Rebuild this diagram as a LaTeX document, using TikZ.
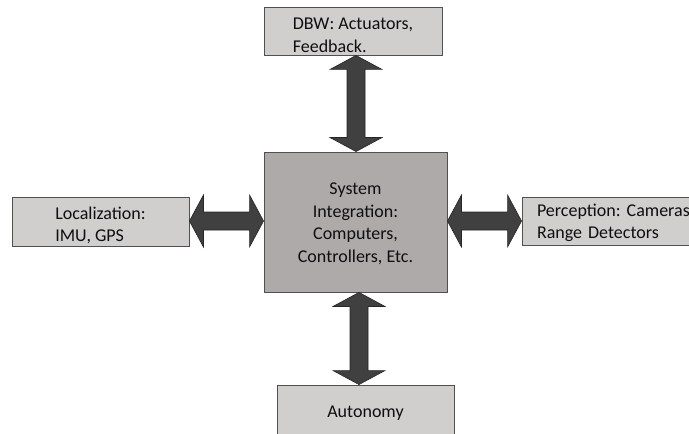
\documentclass[tikz,border=0pt]{standalone}
\usepackage{fontspec}
\setmainfont{Carlito}
\usetikzlibrary{calc}
\definecolor{sidefill}{RGB}{209,206,206}
\definecolor{cenfill}{RGB}{174,170,170}
\definecolor{arrfill}{RGB}{64,64,64}
\definecolor{arrline}{RGB}{38,38,38}
\definecolor{boxline}{RGB}{80,80,80}
\definecolor{txt}{RGB}{15,15,15}
\newcommand{\topstrut}[1]{\rule{0pt}{#1}}
\newcommand{\vdblarrow}[3]{%
  \filldraw[bigarrow] let \p1=(#1.south), \p2=(#2.north) in
    (#3bp,\y1) -- (#3bp+26bp,\y1-14bp) -- (#3bp+9bp,\y1-14bp) -- (#3bp+9bp,\y2+14bp)
    -- (#3bp+26bp,\y2+14bp) -- (#3bp,\y2) -- (#3bp-26bp,\y2+14bp) -- (#3bp-9bp,\y2+14bp)
    -- (#3bp-9bp,\y1-14bp) -- (#3bp-26bp,\y1-14bp) -- cycle;}
\newcommand{\hdblarrow}[3]{%
  \filldraw[bigarrow] let \p1=(#1.east), \p2=(#2.west) in
    (\x1,-#3bp) -- (\x1+14bp,-#3bp+26bp) -- (\x1+14bp,-#3bp+9bp) -- (\x2-14bp,-#3bp+9bp)
    -- (\x2-14bp,-#3bp+26bp) -- (\x2,-#3bp) -- (\x2-14bp,-#3bp-26bp) -- (\x2-14bp,-#3bp-9bp)
    -- (\x1+14bp,-#3bp-9bp) -- (\x1+14bp,-#3bp-26bp) -- cycle;}
\begin{document}
\frenchspacing
\begin{tikzpicture}[x=1bp,y=-1bp,
  box/.style={draw=boxline, line width=0.9bp, fill=sidefill, inner sep=0pt,
    font=\frenchspacing\fontsize{18bp}{22.5bp}\selectfont, text=txt},
  cenbox/.style={box, fill=cenfill},
  bigarrow/.style={fill=arrfill, draw=arrline, line width=0.6bp, line join=miter}]
\useasboundingbox (0,0) rectangle (689,434);
\node[box, minimum width=178bp, minimum height=48bp, align=left] (dbw) at (353,31) {\topstrut{20bp}DBW: Actuators,\\Feedback.};
\node[cenbox, minimum width=183bp, minimum height=140bp, align=center] (sys) at (355.5,222) {\topstrut{15bp}System\\Integration:\\Computers,\\Controllers, Etc.};
\node[box, minimum width=177bp, minimum height=49bp, align=left] (loc) at (100.5,221.5) {\topstrut{20bp}Localization:\\IMU, GPS};
\node[box, text width=170bp, inner xsep=15bp, minimum height=48bp, align=left] (per) at (622,221) {\topstrut{16bp}Perception: Cameras\\Range Detectors};
\node[box, minimum width=177bp, minimum height=52bp] (aut) at (365.5,411) {\topstrut{15bp}Autonomy};
\vdblarrow{dbw}{sys}{356}
\vdblarrow{sys}{aut}{359}
\hdblarrow{loc}{sys}{221}
\hdblarrow{sys}{per}{221}
\end{tikzpicture}
\end{document}
